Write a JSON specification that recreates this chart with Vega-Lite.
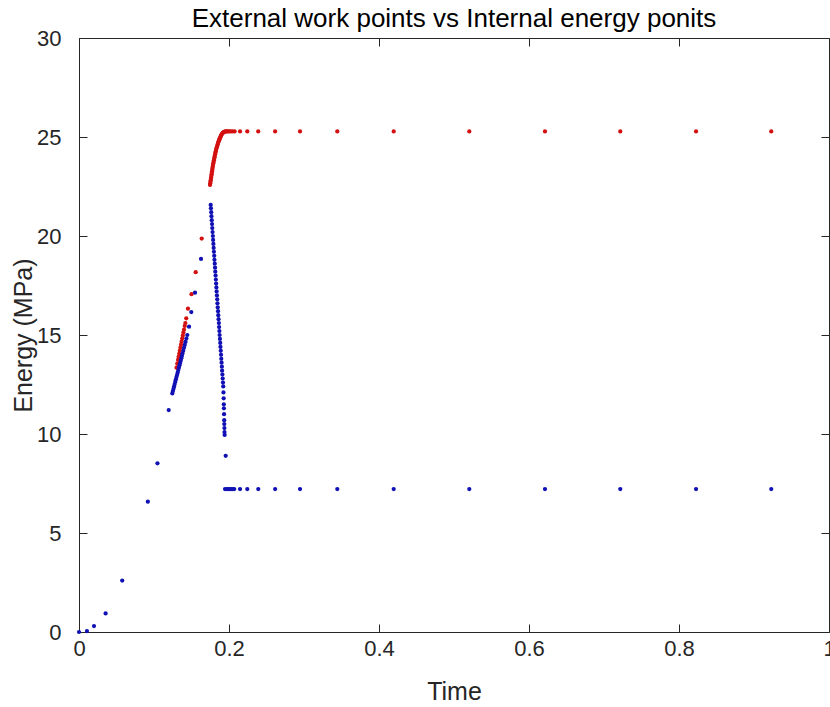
{
  "$schema": "https://vega.github.io/schema/vega-lite/v6.json",
  "width": 750,
  "height": 594,
  "autosize": {"type": "none"},
  "padding": {"left": 79, "top": 38, "right": 1, "bottom": 75},
  "background": "white",
  "title": {"text": "External work points vs Internal energy ponits", "fontSize": 26, "font": "Liberation Sans", "fontWeight": "normal", "color": "#000000", "offset": -5},
  "config": {
    "view": {"stroke": null},
    "axis": {"domainColor": "#262626", "tickColor": "#262626", "labelColor": "#262626", "titleColor": "#262626", "labelFont": "Liberation Sans", "titleFont": "Liberation Sans", "labelFontSize": 22, "titleFontSize": 25, "titleFontWeight": "normal", "grid": false, "tickSize": -8, "domainWidth": 1, "tickWidth": 1, "labelFlush": false, "labelOverlap": false}
  },
  "data": {"values": [
    {"t": 0.1300, "e": 13.35, "s": "External work"},
    {"t": 0.1310, "e": 13.55, "s": "External work"},
    {"t": 0.1320, "e": 13.74, "s": "External work"},
    {"t": 0.1328, "e": 13.90, "s": "External work"},
    {"t": 0.1336, "e": 14.05, "s": "External work"},
    {"t": 0.1344, "e": 14.20, "s": "External work"},
    {"t": 0.1352, "e": 14.36, "s": "External work"},
    {"t": 0.1360, "e": 14.51, "s": "External work"},
    {"t": 0.1368, "e": 14.66, "s": "External work"},
    {"t": 0.1376, "e": 14.82, "s": "External work"},
    {"t": 0.1384, "e": 14.97, "s": "External work"},
    {"t": 0.1392, "e": 15.12, "s": "External work"},
    {"t": 0.1400, "e": 15.27, "s": "External work"},
    {"t": 0.1410, "e": 15.46, "s": "External work"},
    {"t": 0.1418, "e": 15.60, "s": "External work"},
    {"t": 0.1430, "e": 15.84, "s": "External work"},
    {"t": 0.1453, "e": 16.33, "s": "External work"},
    {"t": 0.1500, "e": 17.06, "s": "External work"},
    {"t": 0.1556, "e": 18.17, "s": "External work"},
    {"t": 0.1636, "e": 19.87, "s": "External work"},
    {"t": 0.1747, "e": 22.58, "s": "External work"},
    {"t": 0.1750, "e": 22.66, "s": "External work"},
    {"t": 0.1753, "e": 22.74, "s": "External work"},
    {"t": 0.1756, "e": 22.81, "s": "External work"},
    {"t": 0.1759, "e": 22.89, "s": "External work"},
    {"t": 0.1762, "e": 22.96, "s": "External work"},
    {"t": 0.1765, "e": 23.04, "s": "External work"},
    {"t": 0.1768, "e": 23.12, "s": "External work"},
    {"t": 0.1771, "e": 23.19, "s": "External work"},
    {"t": 0.1774, "e": 23.27, "s": "External work"},
    {"t": 0.1777, "e": 23.35, "s": "External work"},
    {"t": 0.1780, "e": 23.43, "s": "External work"},
    {"t": 0.1783, "e": 23.50, "s": "External work"},
    {"t": 0.1787, "e": 23.59, "s": "External work"},
    {"t": 0.1791, "e": 23.67, "s": "External work"},
    {"t": 0.1795, "e": 23.75, "s": "External work"},
    {"t": 0.1799, "e": 23.82, "s": "External work"},
    {"t": 0.1803, "e": 23.90, "s": "External work"},
    {"t": 0.1807, "e": 23.98, "s": "External work"},
    {"t": 0.1811, "e": 24.06, "s": "External work"},
    {"t": 0.1815, "e": 24.13, "s": "External work"},
    {"t": 0.1819, "e": 24.20, "s": "External work"},
    {"t": 0.1823, "e": 24.27, "s": "External work"},
    {"t": 0.1827, "e": 24.34, "s": "External work"},
    {"t": 0.1832, "e": 24.41, "s": "External work"},
    {"t": 0.1837, "e": 24.48, "s": "External work"},
    {"t": 0.1842, "e": 24.54, "s": "External work"},
    {"t": 0.1847, "e": 24.60, "s": "External work"},
    {"t": 0.1852, "e": 24.66, "s": "External work"},
    {"t": 0.1857, "e": 24.72, "s": "External work"},
    {"t": 0.1862, "e": 24.78, "s": "External work"},
    {"t": 0.1867, "e": 24.83, "s": "External work"},
    {"t": 0.1872, "e": 24.89, "s": "External work"},
    {"t": 0.1877, "e": 24.93, "s": "External work"},
    {"t": 0.1883, "e": 24.98, "s": "External work"},
    {"t": 0.1889, "e": 25.03, "s": "External work"},
    {"t": 0.1895, "e": 25.08, "s": "External work"},
    {"t": 0.1901, "e": 25.12, "s": "External work"},
    {"t": 0.1907, "e": 25.16, "s": "External work"},
    {"t": 0.1914, "e": 25.19, "s": "External work"},
    {"t": 0.1921, "e": 25.22, "s": "External work"},
    {"t": 0.1928, "e": 25.24, "s": "External work"},
    {"t": 0.1935, "e": 25.26, "s": "External work"},
    {"t": 0.1943, "e": 25.27, "s": "External work"},
    {"t": 0.1955, "e": 25.28, "s": "External work"},
    {"t": 0.1968, "e": 25.28, "s": "External work"},
    {"t": 0.1983, "e": 25.28, "s": "External work"},
    {"t": 0.2000, "e": 25.28, "s": "External work"},
    {"t": 0.2020, "e": 25.28, "s": "External work"},
    {"t": 0.2045, "e": 25.28, "s": "External work"},
    {"t": 0.2075, "e": 25.28, "s": "External work"},
    {"t": 0.2147, "e": 25.28, "s": "External work"},
    {"t": 0.2244, "e": 25.28, "s": "External work"},
    {"t": 0.2390, "e": 25.28, "s": "External work"},
    {"t": 0.2615, "e": 25.28, "s": "External work"},
    {"t": 0.2947, "e": 25.28, "s": "External work"},
    {"t": 0.3444, "e": 25.28, "s": "External work"},
    {"t": 0.4196, "e": 25.28, "s": "External work"},
    {"t": 0.5204, "e": 25.28, "s": "External work"},
    {"t": 0.6213, "e": 25.28, "s": "External work"},
    {"t": 0.7217, "e": 25.28, "s": "External work"},
    {"t": 0.8227, "e": 25.28, "s": "External work"},
    {"t": 0.9230, "e": 25.28, "s": "External work"},
    {"t": 0.0000, "e": 0.00, "s": "Internal energy"},
    {"t": 0.0106, "e": 0.05, "s": "Internal energy"},
    {"t": 0.0200, "e": 0.30, "s": "Internal energy"},
    {"t": 0.0355, "e": 0.94, "s": "Internal energy"},
    {"t": 0.0576, "e": 2.60, "s": "Internal energy"},
    {"t": 0.0918, "e": 6.58, "s": "Internal energy"},
    {"t": 0.1046, "e": 8.52, "s": "Internal energy"},
    {"t": 0.1196, "e": 11.21, "s": "Internal energy"},
    {"t": 0.1244, "e": 12.05, "s": "Internal energy"},
    {"t": 0.1252, "e": 12.17, "s": "Internal energy"},
    {"t": 0.1260, "e": 12.28, "s": "Internal energy"},
    {"t": 0.1268, "e": 12.40, "s": "Internal energy"},
    {"t": 0.1276, "e": 12.52, "s": "Internal energy"},
    {"t": 0.1284, "e": 12.64, "s": "Internal energy"},
    {"t": 0.1292, "e": 12.76, "s": "Internal energy"},
    {"t": 0.1300, "e": 12.88, "s": "Internal energy"},
    {"t": 0.1308, "e": 12.99, "s": "Internal energy"},
    {"t": 0.1316, "e": 13.11, "s": "Internal energy"},
    {"t": 0.1324, "e": 13.23, "s": "Internal energy"},
    {"t": 0.1332, "e": 13.35, "s": "Internal energy"},
    {"t": 0.1340, "e": 13.47, "s": "Internal energy"},
    {"t": 0.1348, "e": 13.58, "s": "Internal energy"},
    {"t": 0.1356, "e": 13.70, "s": "Internal energy"},
    {"t": 0.1364, "e": 13.82, "s": "Internal energy"},
    {"t": 0.1372, "e": 13.94, "s": "Internal energy"},
    {"t": 0.1380, "e": 14.06, "s": "Internal energy"},
    {"t": 0.1390, "e": 14.20, "s": "Internal energy"},
    {"t": 0.1400, "e": 14.35, "s": "Internal energy"},
    {"t": 0.1410, "e": 14.50, "s": "Internal energy"},
    {"t": 0.1420, "e": 14.65, "s": "Internal energy"},
    {"t": 0.1432, "e": 14.82, "s": "Internal energy"},
    {"t": 0.1444, "e": 15.00, "s": "Internal energy"},
    {"t": 0.1467, "e": 15.42, "s": "Internal energy"},
    {"t": 0.1497, "e": 16.16, "s": "Internal energy"},
    {"t": 0.1547, "e": 17.14, "s": "Internal energy"},
    {"t": 0.1627, "e": 18.84, "s": "Internal energy"},
    {"t": 0.1756, "e": 21.57, "s": "Internal energy"},
    {"t": 0.1759, "e": 21.40, "s": "Internal energy"},
    {"t": 0.1763, "e": 21.20, "s": "Internal energy"},
    {"t": 0.1766, "e": 21.00, "s": "Internal energy"},
    {"t": 0.1770, "e": 20.80, "s": "Internal energy"},
    {"t": 0.1774, "e": 20.60, "s": "Internal energy"},
    {"t": 0.1777, "e": 20.40, "s": "Internal energy"},
    {"t": 0.1781, "e": 20.20, "s": "Internal energy"},
    {"t": 0.1785, "e": 20.00, "s": "Internal energy"},
    {"t": 0.1788, "e": 19.80, "s": "Internal energy"},
    {"t": 0.1792, "e": 19.60, "s": "Internal energy"},
    {"t": 0.1795, "e": 19.40, "s": "Internal energy"},
    {"t": 0.1799, "e": 19.20, "s": "Internal energy"},
    {"t": 0.1803, "e": 19.00, "s": "Internal energy"},
    {"t": 0.1806, "e": 18.80, "s": "Internal energy"},
    {"t": 0.1810, "e": 18.60, "s": "Internal energy"},
    {"t": 0.1814, "e": 18.40, "s": "Internal energy"},
    {"t": 0.1817, "e": 18.20, "s": "Internal energy"},
    {"t": 0.1821, "e": 18.00, "s": "Internal energy"},
    {"t": 0.1825, "e": 17.80, "s": "Internal energy"},
    {"t": 0.1828, "e": 17.60, "s": "Internal energy"},
    {"t": 0.1832, "e": 17.40, "s": "Internal energy"},
    {"t": 0.1835, "e": 17.20, "s": "Internal energy"},
    {"t": 0.1839, "e": 17.00, "s": "Internal energy"},
    {"t": 0.1843, "e": 16.80, "s": "Internal energy"},
    {"t": 0.1846, "e": 16.60, "s": "Internal energy"},
    {"t": 0.1850, "e": 16.40, "s": "Internal energy"},
    {"t": 0.1854, "e": 16.20, "s": "Internal energy"},
    {"t": 0.1857, "e": 16.00, "s": "Internal energy"},
    {"t": 0.1861, "e": 15.80, "s": "Internal energy"},
    {"t": 0.1865, "e": 15.60, "s": "Internal energy"},
    {"t": 0.1868, "e": 15.40, "s": "Internal energy"},
    {"t": 0.1872, "e": 15.20, "s": "Internal energy"},
    {"t": 0.1875, "e": 15.00, "s": "Internal energy"},
    {"t": 0.1879, "e": 14.80, "s": "Internal energy"},
    {"t": 0.1883, "e": 14.60, "s": "Internal energy"},
    {"t": 0.1886, "e": 14.40, "s": "Internal energy"},
    {"t": 0.1890, "e": 14.20, "s": "Internal energy"},
    {"t": 0.1894, "e": 14.00, "s": "Internal energy"},
    {"t": 0.1897, "e": 13.80, "s": "Internal energy"},
    {"t": 0.1901, "e": 13.60, "s": "Internal energy"},
    {"t": 0.1905, "e": 13.40, "s": "Internal energy"},
    {"t": 0.1908, "e": 13.20, "s": "Internal energy"},
    {"t": 0.1912, "e": 13.00, "s": "Internal energy"},
    {"t": 0.1916, "e": 12.80, "s": "Internal energy"},
    {"t": 0.1920, "e": 12.60, "s": "Internal energy"},
    {"t": 0.1923, "e": 12.40, "s": "Internal energy"},
    {"t": 0.1926, "e": 12.10, "s": "Internal energy"},
    {"t": 0.1929, "e": 11.80, "s": "Internal energy"},
    {"t": 0.1931, "e": 11.50, "s": "Internal energy"},
    {"t": 0.1932, "e": 11.30, "s": "Internal energy"},
    {"t": 0.1934, "e": 11.00, "s": "Internal energy"},
    {"t": 0.1936, "e": 10.70, "s": "Internal energy"},
    {"t": 0.1937, "e": 10.50, "s": "Internal energy"},
    {"t": 0.1939, "e": 10.30, "s": "Internal energy"},
    {"t": 0.1940, "e": 10.10, "s": "Internal energy"},
    {"t": 0.1942, "e": 9.95, "s": "Internal energy"},
    {"t": 0.1956, "e": 8.90, "s": "Internal energy"},
    {"t": 0.1947, "e": 7.22, "s": "Internal energy"},
    {"t": 0.1970, "e": 7.22, "s": "Internal energy"},
    {"t": 0.1990, "e": 7.22, "s": "Internal energy"},
    {"t": 0.2010, "e": 7.22, "s": "Internal energy"},
    {"t": 0.2030, "e": 7.22, "s": "Internal energy"},
    {"t": 0.2050, "e": 7.22, "s": "Internal energy"},
    {"t": 0.2070, "e": 7.22, "s": "Internal energy"},
    {"t": 0.2147, "e": 7.22, "s": "Internal energy"},
    {"t": 0.2244, "e": 7.22, "s": "Internal energy"},
    {"t": 0.2390, "e": 7.22, "s": "Internal energy"},
    {"t": 0.2615, "e": 7.22, "s": "Internal energy"},
    {"t": 0.2947, "e": 7.22, "s": "Internal energy"},
    {"t": 0.3444, "e": 7.22, "s": "Internal energy"},
    {"t": 0.4196, "e": 7.22, "s": "Internal energy"},
    {"t": 0.5204, "e": 7.22, "s": "Internal energy"},
    {"t": 0.6213, "e": 7.22, "s": "Internal energy"},
    {"t": 0.7217, "e": 7.22, "s": "Internal energy"},
    {"t": 0.8227, "e": 7.22, "s": "Internal energy"},
    {"t": 0.9230, "e": 7.22, "s": "Internal energy"}
  ]},
  "layer": [
    {
      "mark": {"type": "circle", "size": 18, "opacity": 1},
      "encoding": {
        "x": {"field": "t", "type": "quantitative", "scale": {"domain": [0, 1], "nice": false, "zero": false}, "axis": {"orient": "bottom", "title": "Time", "values": [0, 0.2, 0.4, 0.6, 0.8, 1], "format": "~g", "labelPadding": 14, "titlePadding": 20}},
        "y": {"field": "e", "type": "quantitative", "scale": {"domain": [0, 30], "nice": false}, "axis": {"orient": "left", "title": "Energy (MPa)", "values": [0, 5, 10, 15, 20, 25, 30], "labelPadding": 26, "titlePadding": 0}},
        "color": {"field": "s", "type": "nominal", "scale": {"domain": ["External work", "Internal energy"], "range": ["#d41010", "#1010b4"]}, "legend": null}
      }
    },
    {
      "mark": {"type": "circle", "opacity": 0},
      "encoding": {
        "x": {"field": "t", "type": "quantitative", "scale": {"domain": [0, 1], "nice": false, "zero": false}, "axis": {"orient": "top", "title": null, "labels": false, "values": [0, 0.2, 0.4, 0.6, 0.8, 1]}},
        "y": {"field": "e", "type": "quantitative", "scale": {"domain": [0, 30], "nice": false}, "axis": {"orient": "right", "title": null, "labels": false, "values": [0, 5, 10, 15, 20, 25, 30]}}
      }
    }
  ],
  "resolve": {"axis": {"x": "independent", "y": "independent"}}
}
